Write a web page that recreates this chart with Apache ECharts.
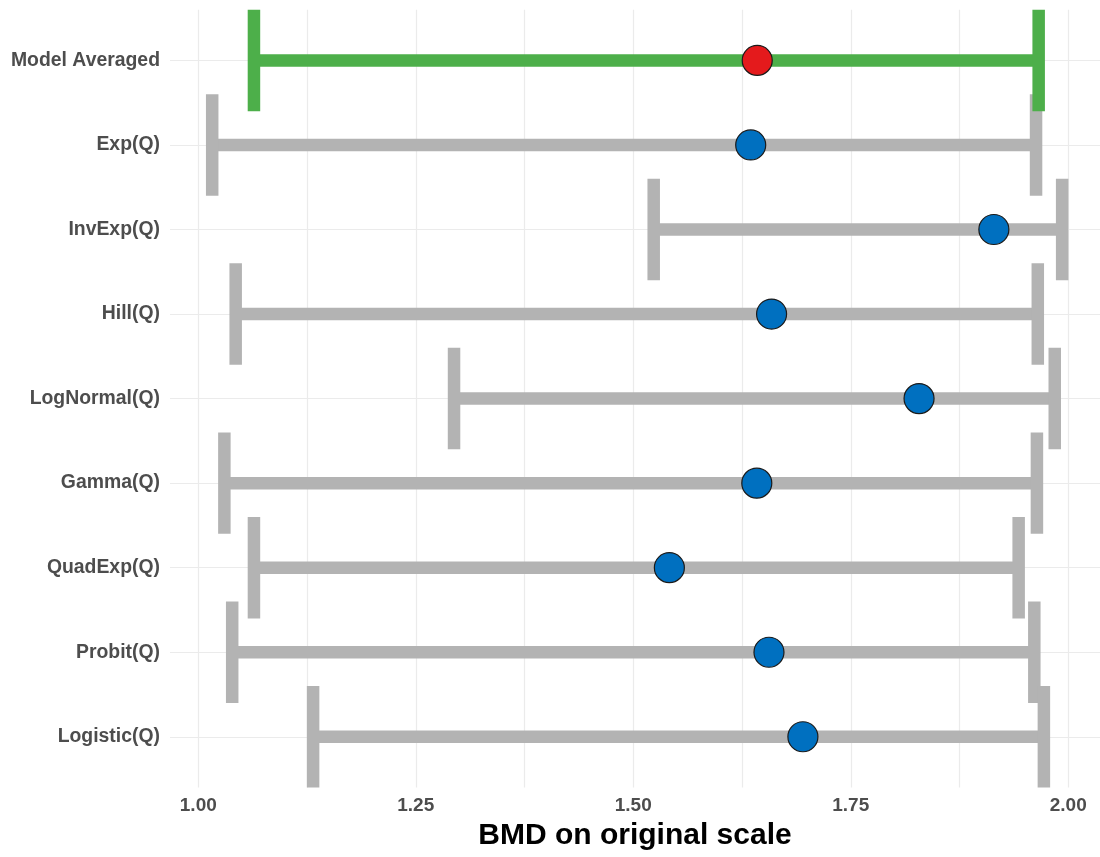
<!DOCTYPE html>
<html>
<head>
<meta charset="utf-8">
<script src="https://cdn.jsdelivr.net/npm/echarts@6/dist/echarts.min.js"></script>
<style>
  html, body { margin: 0; padding: 0; background: #ffffff; }
  #chart { width: 1100px; height: 857px; }
</style>
</head>
<body>
<div id="chart"></div>
<script>
// ---- data ----
const models   = ['Model Averaged', 'Exp(Q)', 'InvExp(Q)', 'Hill(Q)', 'LogNormal(Q)', 'Gamma(Q)', 'QuadExp(Q)', 'Probit(Q)', 'Logistic(Q)'];
const bmdLower = [1.064, 1.016, 1.5235, 1.043, 1.294, 1.030, 1.064, 1.039, 1.132];
const bmdUpper = [1.966, 1.963, 1.993, 1.965, 1.9845, 1.964, 1.943, 1.961, 1.972];
const bmdPoint = [1.6425, 1.635, 1.9145, 1.659, 1.8285, 1.642, 1.5415, 1.656, 1.695];
const xTickLabels = [1.00, 1.25, 1.50, 1.75, 2.00];
const xGridValues = [1.00, 1.125, 1.25, 1.375, 1.50, 1.625, 1.75, 1.875, 2.00];
const averagedName = 'Model Averaged';

// ---- build series data ----
const rowIdx = models.map((m, i) => i);
const barsOther = [], barsAvg = [], ptsOther = [], ptsAvg = [];
models.forEach((m, i) => {
  const bar = [i, bmdLower[i], bmdUpper[i]];
  const pt = [bmdPoint[i], i];
  if (m === averagedName) { barsAvg.push(bar); ptsAvg.push(pt); }
  else { barsOther.push(bar); ptsOther.push(pt); }
});

function errorBar(color) {
  return function (params, api) {
    const y = api.value(0), lo = api.value(1), hi = api.value(2);
    const pLo = api.coord([lo, y]);
    const pHi = api.coord([hi, y]);
    const half = api.size([0, 1])[1] * 0.6;
    const style = { stroke: color, lineWidth: 12.5, lineCap: 'butt', fill: null };
    return {
      type: 'group',
      children: [
        { type: 'line', shape: { x1: pLo[0], y1: pLo[1], x2: pHi[0], y2: pHi[1] }, style: style },
        { type: 'line', shape: { x1: pLo[0], y1: pLo[1] - half, x2: pLo[0], y2: pLo[1] + half }, style: style },
        { type: 'line', shape: { x1: pHi[0], y1: pHi[1] - half, x2: pHi[0], y2: pHi[1] + half }, style: style }
      ]
    };
  };
}

const fontFam = '"Liberation Sans", Arial, sans-serif';

const chart = echarts.init(document.getElementById('chart'), null, { renderer: 'canvas' });
chart.setOption({
  animation: false,
  backgroundColor: '#ffffff',
  grid: { left: 170, right: 0, top: 9.7, bottom: 69.5, containLabel: false, outerBoundsMode: 'none' },
  xAxis: {
    type: 'value',
    min: 0.9675,
    max: 2.0365,
    name: 'BMD on original scale',
    nameLocation: 'middle',
    nameGap: 31,
    nameTextStyle: { fontFamily: fontFam, fontWeight: 'bold', fontSize: 30, color: '#000000' },
    axisLine: { show: false },
    axisTick: { show: false, customValues: xGridValues },
    axisLabel: { customValues: xTickLabels, margin: 9, formatter: v => Number(v).toFixed(2),
      fontFamily: fontFam, fontWeight: 'bold', fontSize: 19, color: '#4d4d4d' },
    splitLine: { show: true, lineStyle: { color: '#ebebeb', width: 1.2 } }
  },
  yAxis: {
    type: 'value',
    inverse: true,
    min: -0.6,
    max: 8.6,
    axisLine: { show: false },
    axisTick: { show: false, customValues: rowIdx },
    axisLabel: { customValues: rowIdx, margin: 10, formatter: v => models[Math.round(v)],
      fontFamily: fontFam, fontWeight: 'bold', fontSize: 19.4, color: '#4d4d4d' },
    splitLine: { show: true, lineStyle: { color: '#ebebeb', width: 1.2 } }
  },
  series: [
    { type: 'custom', name: 'models', renderItem: errorBar('#b3b3b3'), encode: { x: [1, 2], y: 0 }, data: barsOther, z: 2 },
    { type: 'custom', name: 'averaged', renderItem: errorBar('#4daf4a'), encode: { x: [1, 2], y: 0 }, data: barsAvg, z: 3 },
    { type: 'scatter', name: 'BMD', data: ptsOther, symbol: 'circle', symbolSize: 30,
      itemStyle: { color: '#0070c0', borderColor: '#1a1a1a', borderWidth: 1.2, opacity: 1 }, z: 4 },
    { type: 'scatter', name: 'BMD averaged', data: ptsAvg, symbol: 'circle', symbolSize: 30,
      itemStyle: { color: '#e41a1c', borderColor: '#1a1a1a', borderWidth: 1.2, opacity: 1 }, z: 4 }
  ]
});
</script>
</body>
</html>
